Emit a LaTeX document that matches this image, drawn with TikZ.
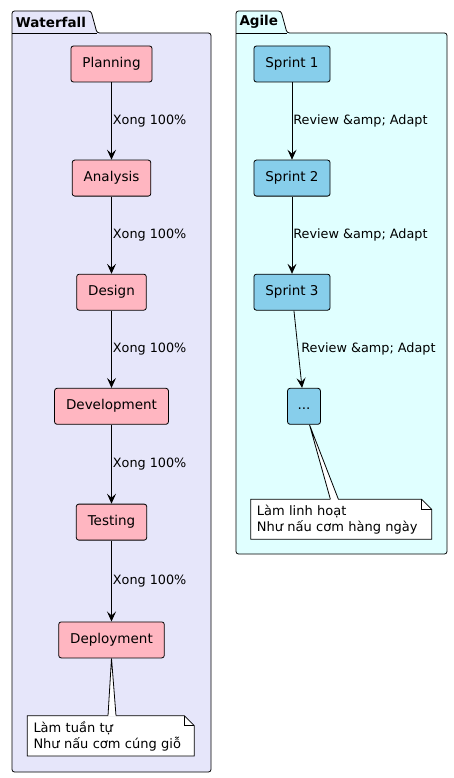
\documentclass[tikz,border=0pt]{standalone}
\usepackage{fontspec}
\setmainfont{DejaVu Sans}
\usepackage{xcolor}
\usetikzlibrary{arrows.meta,positioning}
\definecolor{wfback}{HTML}{E6E6FA}
\definecolor{agback}{HTML}{E0FFFF}
\definecolor{wfnode}{HTML}{FFB6C1}
\definecolor{agnode}{HTML}{87CEEB}

\begin{document}
\begin{tikzpicture}[
    x=1pt, y=-1pt,
    node distance=77.3pt,
    box/.style={rectangle, draw, rounded corners=2.5pt, line width=0.8pt, minimum height=36pt, inner xsep=11.5pt, text height=10pt, text depth=3pt, font=\fontsize{13.5}{16}\selectfont},
    wfbox/.style={box, fill=wfnode},
    agbox/.style={box, fill=agnode},
    arrow/.style={-{Stealth[length=10pt,width=9pt,inset=4pt]}, line width=0.8pt},
    edgelbl/.style={anchor=west, inner xsep=1pt, font=\fontsize{12.8}{15}\selectfont},
    package/.style={draw, line width=0.8pt, rounded corners=2.5pt},
    pkgtitle/.style={anchor=west, inner sep=0pt, font=\bfseries\fontsize{13.5}{16}\selectfont},
    notebox/.style={anchor=north west, align=left, inner xsep=6pt, inner ysep=0pt, font=\fontsize{13}{16}\selectfont},
    noteline/.style={draw, line width=0.8pt}
]
\fill[white] (0,0) rectangle (453,778);
\useasboundingbox (0,0) rectangle (453,778);

% Packages
\draw[package, fill=wfback] (12,33) -- (12,11) -- (91,11) -- (97,33) -- (211,33) -- (211,772) -- (12,772) -- cycle;
\draw[line width=0.8pt] (12,33) -- (97,33);
\node[pkgtitle] (wftitle) at (15.7,22) {Waterfall};

\draw[package, fill=agback] (236,33) -- (236,11) -- (281,11) -- (287,33) -- (447,33) -- (447,554) -- (236,554) -- cycle;
\draw[line width=0.8pt] (236,33) -- (287,33);
\node[pkgtitle] (agtitle) at (239.3,22) {Agile};

% Waterfall nodes
\node[wfbox] (planning) at (111.5,64) {Planning};
\node[wfbox, below=of planning] (analysis) {Analysis};
\node[wfbox, below=of analysis] (design) {Design};
\node[wfbox, below=of design] (development) {Development};
\node[wfbox, below=79pt of development] (testing) {Testing};
\node[wfbox, below=81pt of testing] (deployment) {Deployment};

% Agile nodes
\node[agbox] (sprint1) at (292,64) {Sprint 1};
\node[agbox, below=of sprint1] (sprint2) {Sprint 2};
\node[agbox, below=of sprint2] (sprint3) {Sprint 3};
\node[agbox, below=of sprint3, xshift=12pt, inner xsep=10pt] (more) {...};

% Arrows
\draw[arrow] (planning) -- node[edgelbl] (wflbl1) {Xong 100\%} (analysis);
\draw[arrow] (analysis) -- node[edgelbl] (wflbl2) {Xong 100\%} (design);
\draw[arrow] (design) -- node[edgelbl] (wflbl3) {Xong 100\%} (development);
\draw[arrow] (development) -- node[edgelbl] (wflbl4) {Xong 100\%} (testing);
\draw[arrow] (testing) -- node[edgelbl] (wflbl5) {Xong 100\%} (deployment);

\draw[arrow] (sprint1) -- node[edgelbl] (aglbl1) {Review \&amp; Adapt} (sprint2);
\draw[arrow] (sprint2) -- node[edgelbl] (aglbl2) {Review \&amp; Adapt} (sprint3);
\draw[arrow] (sprint3) -- node[edgelbl, xshift=2pt] (aglbl3) {Review \&amp; Adapt} (more);

% Notes
\draw[noteline, fill=white] (27.3,715.7) -- (184.3,715.7) -- (194.3,725.7) -- (194.3,756) -- (27.3,756) -- cycle;
\draw[noteline] (184.3,715.7) -- (184.3,725.7) -- (194.3,725.7);
\node[notebox, text width=155pt, minimum height=40.3pt] (wfnote) at (27.3,715.7) {Làm tuần tự\\Như nấu cơm cúng giỗ};

\draw[noteline, fill=white] (250.7,499.3) -- (421.7,499.3) -- (431.7,509.3) -- (431.7,539.3) -- (250.7,539.3) -- cycle;
\draw[noteline] (421.7,499.3) -- (421.7,509.3) -- (431.7,509.3);
\node[notebox, text width=169pt, minimum height=40pt] (agnote) at (250.7,499.3) {Làm linh hoạt\\Như nấu cơm hàng ngày};

% Note links
\fill[white] (deployment.south) -- ([xshift=-3pt,yshift=-1pt]wfnote.north) -- ([xshift=5pt,yshift=-1pt]wfnote.north) -- cycle;
\draw[line width=0.8pt] ([xshift=-3pt]wfnote.north) -- (deployment.south) -- ([xshift=5pt]wfnote.north);

\fill[white] ([xshift=5.5pt]more.south) -- ([xshift=-11pt,yshift=-1pt]agnote.north) -- ([xshift=-3pt,yshift=-1pt]agnote.north) -- cycle;
\draw[line width=0.8pt] ([xshift=-11pt]agnote.north) -- ([xshift=5.5pt]more.south) -- ([xshift=-3pt]agnote.north);

\end{tikzpicture}
\end{document}
